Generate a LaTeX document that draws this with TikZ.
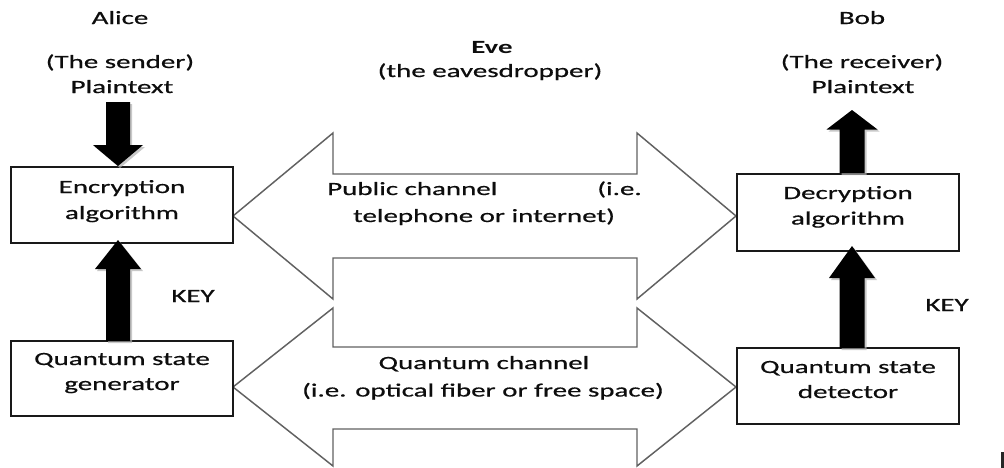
\documentclass[tikz,border=0pt]{standalone}
\usepackage{fontspec}
\setmainfont{Carlito}[FakeStretch=1.55, UprightFeatures={FakeBold=0.6}]
\newcommand\blkarrow[6]{% cx, tail y, head base y, tip y, half shaft, half head
  \fill[shd,xshift=1.5pt,yshift=-1.5pt] ({#1-#5},#2) -- ({#1-#5},#3) -- ({#1-#6},#3) -- (#1,#4) -- ({#1+#6},#3) -- ({#1+#5},#3) -- ({#1+#5},#2) -- cycle;
  \fill[blk] ({#1-#5},#2) -- ({#1-#5},#3) -- ({#1-#6},#3) -- (#1,#4) -- ({#1+#6},#3) -- ({#1+#5},#3) -- ({#1+#5},#2) -- cycle;}
\begin{document}
\begin{tikzpicture}[x=0.75pt,y=-0.75pt,
  txt/.style={font=\fontsize{14pt}{19.5pt}\selectfont, text=black!95, inner sep=0pt, anchor=base},
  boldtxt/.style={txt, font=\fontsize{14pt}{19.5pt}\selectfont\bfseries},
  box/.style={draw=black!90, line width=1.1pt, fill=white, minimum width=166.5pt, minimum height=57pt, inner sep=0pt},
  chan/.style={draw=black!62, line width=1.1pt, fill=white, line join=miter},
  blk/.style={fill=black},
  shd/.style={fill=black!30, opacity=0.7}]
\useasboundingbox (0,0) rectangle (1004,468);
\fill[white] (0,0) rectangle (1004,468);

% channels
\draw[chan] (233,216) -- (333,133) -- (333,174) -- (637,174) -- (637,133) -- (736,216) -- (637,299) -- (637,258) -- (333,258) -- (333,299) -- cycle;
\draw[chan] (233,387) -- (333,308) -- (333,347) -- (637,347) -- (637,308) -- (736,387) -- (637,466) -- (637,429) -- (333,429) -- (333,466) -- cycle;

% boxes
\node[box] (enc) at (122,205) {};
\node[box, minimum height=56.25pt] (gen) at (122,378.5) {};
\node[box, minimum height=57.75pt] (dec) at (848,212.5) {};
\node[box] (det) at (848,386) {};

\node[txt] (encA) at (122,193) {Encryption};
\node[txt] (encB) at (122,219) {algorithm};
\node[txt] (genA) at (122,365) {Quantum state};
\node[txt] (genB) at (122,390) {generator};
\node[txt] (decA) at (848,199) {Decryption};
\node[txt] (decB) at (848,224.5) {algorithm};
\node[txt] (detA) at (848,373) {Quantum state};
\node[txt] (detB) at (848,398) {detector};

% titles
\node[txt] (alice) at (120,24) {Alice};
\node[txt] (sender) at (120,68) {(The sender)};
\node[txt] (ptA) at (122,93) {Plaintext};
\node[txt] (bob) at (862,24) {Bob};
\node[txt] (receiver) at (862,68) {(The receiver)};
\node[txt] (ptB) at (863,93) {Plaintext};
\node[boldtxt] (eve) at (492,53) {Eve};
\node[txt] (eaves) at (490,77) {(the eavesdropper)};
\node[txt] (keyA) at (193,302) {KEY};
\node[txt] (keyB) at (947,311) {KEY};

% channel labels
\node[txt, anchor=base west] (pubA) at (327,195) {Public channel};
\node[txt, anchor=base east] (pubB) at (642,195) {(i.e.};
\node[txt] (pubC) at (484,222) {telephone or internet)};
\node[txt] (quA) at (484,369) {Quantum channel};
\node[txt] (quB) at (483,396.5) {(i.e. optical fiber or free space)};

% block arrows
\blkarrow{118}{102}{145}{166}{12}{25}
\blkarrow{118}{341}{269}{240}{12}{23}
\blkarrow{852}{173}{129.5}{110}{12.5}{25.5}
\blkarrow{852}{348}{278}{246}{12.5}{23}

\fill[black!85] (1001,452) rectangle (1004,468);
\end{tikzpicture}
\end{document}
